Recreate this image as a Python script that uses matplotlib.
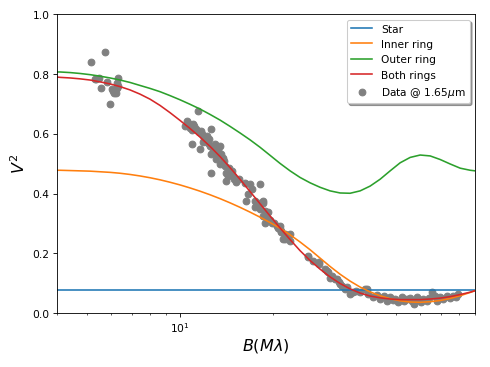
import matplotlib
matplotlib.use("Agg")
import matplotlib.pyplot as plt

# Model curves (baseline in M-lambda, V^2)
model_B = [4.00, 4.09, 4.41, 4.75, 5.12, 5.51, 5.94, 6.40, 6.89, 7.42, 8.00, 8.62, 9.28,
           10.00, 10.77, 11.61, 12.51, 13.48, 14.52, 15.64, 16.85, 18.16, 19.57, 21.08,
           22.72, 24.47, 26.37, 28.41, 30.61, 32.98, 35.53, 38.29, 41.25, 44.45, 47.89,
           51.60, 55.60, 59.90, 64.54, 69.53, 74.92, 80.72, 86.97, 90.30]
star_V2 = [0.078] * len(model_B)
inner_V2 = [0.478, 0.478, 0.477, 0.476, 0.475, 0.473, 0.471, 0.468, 0.464, 0.459, 0.453, 0.446, 0.438,
            0.429, 0.419, 0.408, 0.396, 0.383, 0.369, 0.354, 0.338, 0.321, 0.303, 0.284,
            0.262, 0.238, 0.212, 0.184, 0.156, 0.130, 0.107, 0.087, 0.071, 0.058, 0.048,
            0.041, 0.037, 0.036, 0.038, 0.042, 0.049, 0.058, 0.069, 0.075]
outer_V2 = [0.807, 0.807, 0.805, 0.802, 0.798, 0.793, 0.787, 0.780, 0.772, 0.762, 0.752, 0.741, 0.728,
            0.714, 0.699, 0.683, 0.665, 0.646, 0.625, 0.603, 0.580, 0.555, 0.528, 0.501,
            0.476, 0.454, 0.436, 0.421, 0.409, 0.402, 0.401, 0.409, 0.425, 0.448, 0.476,
            0.503, 0.521, 0.529, 0.526, 0.514, 0.499, 0.485, 0.478, 0.476]
both_V2 = [0.790, 0.789, 0.787, 0.784, 0.780, 0.774, 0.767, 0.758, 0.747, 0.733, 0.716, 0.695, 0.671,
           0.645, 0.618, 0.589, 0.558, 0.524, 0.487, 0.448, 0.407, 0.366, 0.325, 0.285,
           0.246, 0.209, 0.176, 0.147, 0.121, 0.099, 0.081, 0.067, 0.057, 0.051, 0.047,
           0.045, 0.045, 0.045, 0.047, 0.050, 0.055, 0.062, 0.070, 0.075]

# Observed data @ 1.65 micron
data_B = [5.15, 5.72, 5.35, 5.47, 5.55, 5.81, 5.93, 6.07, 6.25, 6.30, 6.21, 6.30, 6.02, 5.31, 6.12, 6.27,
          11.4, 10.5, 10.4, 10.8, 11.0, 11.3, 11.8, 12.2, 12.6, 12.4, 10.9, 11.6, 11.9, 12.5, 13.0, 13.5,
          12.6, 13.1, 13.6, 13.1, 13.5, 12.6, 14.0, 14.1, 14.3, 14.1, 14.7, 14.9, 15.5, 16.2, 16.9, 18.2,
          17.1, 16.6, 16.4, 17.5, 18.2, 18.6, 17.5, 18.2, 18.9, 19.3, 18.6, 19.1, 19.8, 20.6, 21.1, 21.3,
          21.9, 22.4, 21.6, 22.7,
          10.6, 10.9, 11.1, 11.5, 11.7, 12.0, 12.3, 12.8, 13.3, 13.8, 13.9, 14.4, 14.6, 15.0, 15.2, 17.8,
          19.5, 20.2, 20.8,
          26.0, 27.0, 28.1, 29.5, 30.2, 30.6, 31.8, 32.6, 33.4, 34.2, 35.5, 36.4, 39.7, 40.7, 45.6, 47.9,
          49.7, 52.3, 54.2, 56.3, 58.4, 57.0, 61.3, 65.4, 67.0, 69.5, 73.0, 76.7, 79.4, 46.7, 50.8, 62.8,
          67.8, 44.5, 42.3, 26.0, 28.1, 29.9, 32.2, 34.7, 38.3, 40.2, 18.6, 18.9, 21.1, 21.9, 22.7, 21.3,
          21.9,
          31.0, 33.0, 37.0, 43.5, 48.8, 53.2, 59.5, 64.0, 71.0, 75.0, 78.0, 55.5, 60.5]
data_V2 = [0.841, 0.875, 0.784, 0.788, 0.755, 0.773, 0.699, 0.744, 0.755, 0.788, 0.738, 0.761, 0.749, 0.783, 0.736, 0.770,
           0.677, 0.643, 0.627, 0.621, 0.632, 0.615, 0.599, 0.593, 0.615, 0.582, 0.565, 0.548, 0.571, 0.560, 0.565, 0.560,
           0.532, 0.537, 0.532, 0.515, 0.498, 0.470, 0.493, 0.470, 0.459, 0.442, 0.476, 0.459, 0.448, 0.437, 0.431, 0.431,
           0.415, 0.398, 0.376, 0.376, 0.370, 0.376, 0.354, 0.348, 0.342, 0.337, 0.325, 0.320, 0.303, 0.292, 0.281, 0.270,
           0.264, 0.259, 0.247, 0.242,
           0.635, 0.612, 0.625, 0.605, 0.610, 0.585, 0.570, 0.550, 0.545, 0.520, 0.510, 0.485, 0.465, 0.450, 0.440, 0.360,
           0.310, 0.300, 0.285,
           0.192, 0.175, 0.164, 0.147, 0.136, 0.119, 0.114, 0.103, 0.091, 0.080, 0.064, 0.069, 0.080, 0.064, 0.058, 0.053,
           0.047, 0.053, 0.047, 0.041, 0.053, 0.030, 0.047, 0.069, 0.058, 0.053, 0.058, 0.058, 0.064, 0.041, 0.036, 0.041,
           0.041, 0.047, 0.053, 0.186, 0.170, 0.142, 0.114, 0.086, 0.069, 0.080, 0.370, 0.303, 0.292, 0.259, 0.264, 0.275,
           0.247,
           0.125, 0.097, 0.075, 0.060, 0.045, 0.042, 0.045, 0.050, 0.048, 0.050, 0.055, 0.050, 0.038]

fig = plt.figure(figsize=(6.4, 4.8), dpi=76.6)
ax = fig.add_axes([0.1163, 0.1467, 0.8531, 0.8125])

ax.plot(model_B, star_V2, color="C0", label="Star")
ax.plot(model_B, inner_V2, color="C1", label="Inner ring")
ax.plot(model_B, outer_V2, color="C2", label="Outer ring")
ax.plot(model_B, both_V2, color="C3", label="Both rings")
ax.scatter(data_B, data_V2, color="grey", s=40, label=r"Data @ 1.65$\mu$m", zorder=1)

ax.set_xscale("log")
ax.set_xlim(4.0, 90.3)
ax.set_ylim(0.0, 1.0)
ax.set_xlabel(r"$B(M\lambda)$", fontsize=15, labelpad=2)
ax.set_ylabel(r"$V^2$", fontsize=15)
ax.legend(loc="upper right", shadow=True)

fig.savefig("out.png", dpi=76.6)
